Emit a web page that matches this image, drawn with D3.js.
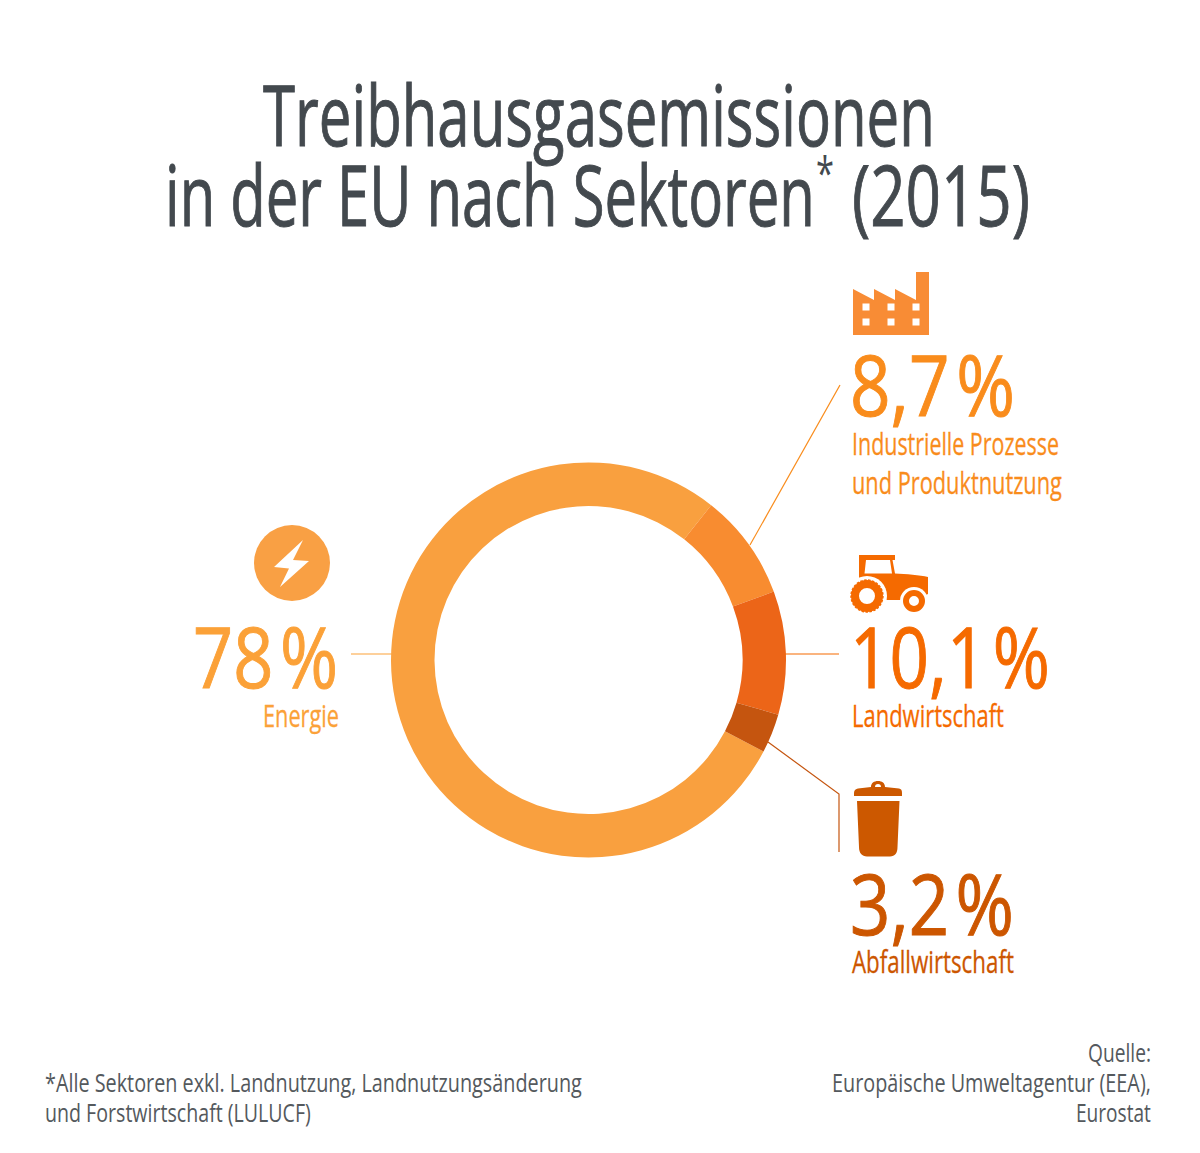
<!DOCTYPE html>
<html lang="de">
<head>
<meta charset="utf-8">
<title>Treibhausgasemissionen in der EU nach Sektoren</title>
<script src="https://cdn.jsdelivr.net/npm/d3@7"></script>
<style>
html, body { margin: 0; padding: 0; background: #fff; }
svg { display: block; }
text { font-family: "Open Sans", sans-serif; }
</style>
</head>
<body>
<div id="chart"></div>
<script>
const sectors = ['Energie', 'Industrielle Prozesse und Produktnutzung', 'Landwirtschaft', 'Abfallwirtschaft'];
const shares = [78, 8.7, 10.1, 3.2];
const shareLabels = ['78 %', '8,7 %', '10,1 %', '3,2 %'];
const ringColors = ['#f9a03f', '#f88c30', '#ec6518', '#c5550f'];
const textColors = ['#fba138', '#f98c1c', '#f56a00', '#cc5600'];

const width = 1200;
const height = 1153;
const cx = 588.5;
const cy = 660;

const svg = d3.select('#chart').append('svg')
    .attr('width', width)
    .attr('height', height)
    .attr('viewBox', [0, 0, width, height]);

// squeezes a text to the width it has in the picture
function fitText(x, y, str, size, w, color, opts) {
    const o = opts || {};
    const t = svg.append('text')
        .attr('font-size', size)
        .attr('font-weight', o.weight || 400)
        .attr('word-spacing', o.wordSpacing || 0)
        .attr('fill', color)
        .attr('stroke', o.stroke ? color : 'none')
        .attr('stroke-width', o.stroke || 0)
        .text(str);
    const sx = w / t.node().getComputedTextLength();
    const left = o.end ? x - w : x;
    t.attr('transform', `translate(${left},${y}) scale(${sx},1)`);
    return t;
}

// title
const titleColor = '#43494e';
const titleOpts = { weight: 500, stroke: 1 };
fitText(263, 146, 'Treibhausgasemissionen', 84, 672, titleColor, titleOpts);
fitText(165, 226, 'in der EU nach Sektoren', 84, 650, titleColor, titleOpts);
fitText(816, 190, '*', 46, 18, titleColor);
fitText(852, 226, '(2015)', 84, 178, titleColor, titleOpts);

// ring
const start = 117.6 * Math.PI / 180;
const pie = d3.pie().sort(null).startAngle(start).endAngle(start + 2 * Math.PI);
const arc = d3.arc().innerRadius(154).outerRadius(197.5);

svg.append('g')
    .attr('transform', `translate(${cx},${cy})`)
    .selectAll('path')
    .data(pie(shares))
    .join('path')
    .attr('d', arc)
    .attr('fill', (d, i) => ringColors[i]);

// leader lines
function leader(pts, color) {
    svg.append('path')
        .attr('d', d3.line()(pts))
        .attr('fill', 'none')
        .attr('stroke', color)
        .attr('stroke-width', 1.2);
}
leader([[351, 654], [392, 654]], textColors[0]);
leader([[750, 545], [840, 385]], textColors[1]);
leader([[785, 654], [839, 654]], textColors[2]);
leader([[768, 742], [839, 794], [839, 852]], ringColors[3]);

// percentages and sector names
const bigOpts = { weight: 500, wordSpacing: -14, stroke: 1 };
const smallOpts = { stroke: 0.3 };
fitText(193, 688, shareLabels[0], 84, 145, textColors[0], bigOpts);
fitText(263, 727, sectors[0], 31, 76, textColors[0], smallOpts);

fitText(850, 416, shareLabels[1], 84, 165, textColors[1], bigOpts);
fitText(852, 455, 'Industrielle Prozesse', 31, 207, textColors[1], smallOpts);
fitText(852, 494, 'und Produktnutzung', 31, 210, textColors[1], smallOpts);

fitText(850, 688, shareLabels[2], 84, 200, textColors[2], bigOpts);
fitText(852, 727, sectors[2], 31, 152, textColors[2], smallOpts);

fitText(850, 935, shareLabels[3], 84, 164, textColors[3], bigOpts);
fitText(852, 973, sectors[3], 31, 162, textColors[3], smallOpts);

// footer
const footColor = '#54595d';
fitText(45, 1092, '*Alle Sektoren exkl. Landnutzung, Landnutzungsänderung', 26, 537, footColor);
fitText(45, 1122, 'und Forstwirtschaft (LULUCF)', 26, 266, footColor);
fitText(1151, 1062, 'Quelle:', 26, 63, footColor, { end: true });
fitText(1151, 1092, 'Europäische Umweltagentur (EEA),', 26, 319, footColor, { end: true });
fitText(1151, 1122, 'Eurostat', 26, 75, footColor, { end: true });

// icons
const icons = svg.append('g');

// energy
icons.append('circle').attr('cx', 292).attr('cy', 563).attr('r', 38).attr('fill', '#f9a044');
icons.append('path').attr('fill', '#fff')
    .attr('d', 'M303 540L274 567L289 568.5L280 587L309 561L293 560Z');

// factory
icons.append('path').attr('fill', '#f88c35')
    .attr('d', 'M853 289L874 300V289L895 300V289L916 300V272H929V335H853Z');
icons.append('g').attr('fill', '#fff')
    .selectAll('rect')
    .data(d3.cross([866, 891, 916], [307, 322]))
    .join('rect')
    .attr('x', d => d[0] - 3.5)
    .attr('y', d => d[1] - 3.5)
    .attr('width', 7)
    .attr('height', 7);

// tractor
const tractorColor = '#f56a00';
const tractor = icons.append('g');
tractor.append('path').attr('fill', tractorColor).attr('fill-rule', 'evenodd')
    .attr('d', 'M859 555H895V560H892.5L895 573.5C906 574 920 575 928 577V594L915 600H880L859 585V560ZM866 560L864.5 573.5H892L890 560Z');
// white gaps around the wheels
tractor.append('circle').attr('cx', 867).attr('cy', 596).attr('r', 20).attr('fill', '#fff');
tractor.append('circle').attr('cx', 914).attr('cy', 601).attr('r', 14).attr('fill', '#fff');
tractor.append('circle').attr('cx', 867).attr('cy', 596).attr('r', 12).attr('fill', 'none')
    .attr('stroke', tractorColor).attr('stroke-width', 8);
tractor.append('circle').attr('cx', 867).attr('cy', 596).attr('r', 16).attr('fill', 'none')
    .attr('stroke', tractorColor).attr('stroke-width', 1.4).attr('stroke-dasharray', '2.5 1.5');
tractor.append('circle').attr('cx', 914).attr('cy', 601).attr('r', 8).attr('fill', 'none')
    .attr('stroke', tractorColor).attr('stroke-width', 6);

// bin
const bin = icons.append('g').attr('fill', '#cc5800');
bin.append('path')
    .attr('d', 'M854 793C854 790 856 789 858 788.5L871 787C871 783 874 781 878 781C882 781 885 783 885 787L899 788.5C901 789 902 790 902 793V796H854ZM875 787H881C881 785 880 784 878 784C876 784 875 785 875 787Z');
bin.append('path')
    .attr('d', 'M857 801H899.5L897.5 847C897.5 853 895 856.5 890 856.5H867C862 856.5 859 853 859 847Z');
</script>
</body>
</html>
